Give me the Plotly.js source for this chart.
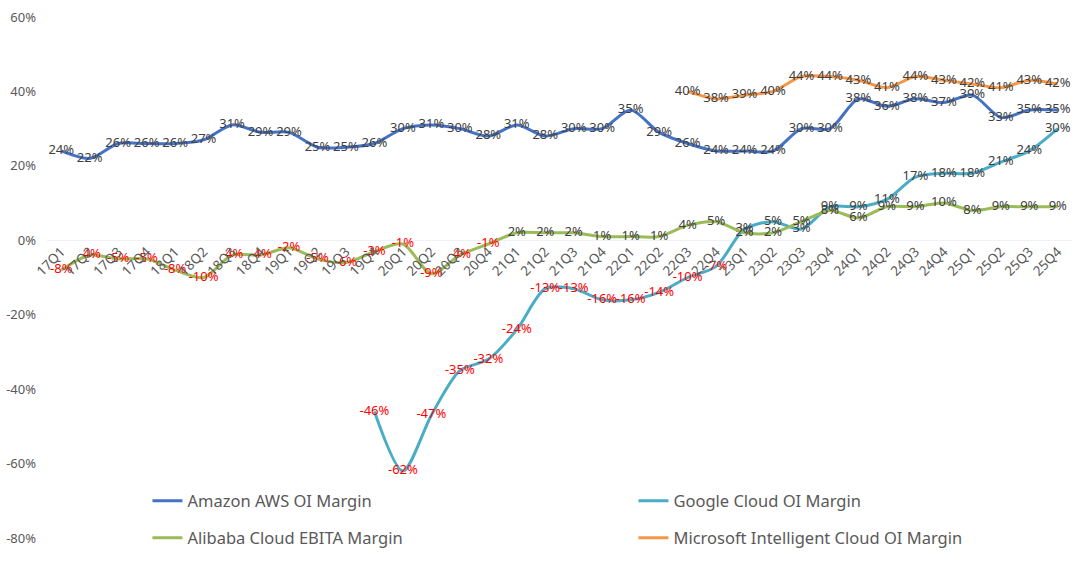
<!DOCTYPE html>
<html>
<head>
<meta charset="utf-8">
<script src="https://cdn.plot.ly/plotly-3.0.1.min.js"></script>
<style>html,body{margin:0;padding:0;background:#fff;}#chart{width:1080px;height:575px;}</style>
</head>
<body>
<div id="chart"></div>
<script>
const quarters = ["17Q1","17Q2","17Q3","17Q4","18Q1","18Q2","18Q3","18Q4","19Q1","19Q2","19Q3","19Q4",
  "20Q1","20Q2","20Q3","20Q4","21Q1","21Q2","21Q3","21Q4","22Q1","22Q2","22Q3","22Q4",
  "23Q1","23Q2","23Q3","23Q4","24Q1","24Q2","24Q3","24Q4","25Q1","25Q2","25Q3","25Q4"];
const awsMargin = [24,22,26,26,26,27,31,29,29,25,25,26,30,31,30,28,31,28,30,30,35,29,26,24,24,24,30,30,38,36,38,37,39,33,35,35];
const googleMargin = [null,null,null,null,null,null,null,null,null,null,null,-46,-62,-47,-35,-32,-24,-13,-13,-16,-16,-14,-10,-7,3,5,3,9,9,11,17,18,18,21,24,30];
const alibabaMargin = [-8,-4,-5,-5,-8,-10,-4,-4,-2,-5,-6,-3,-1,-9,-4,-1,2,2,2,1,1,1,4,5,2,2,5,8,6,9,9,10,8,9,9,9];
const microsoftMargin = [null,null,null,null,null,null,null,null,null,null,null,null,null,null,null,null,null,null,null,null,null,null,40,38,39,40,44,44,43,41,44,43,42,41,43,42];
const seriesNames = ["Amazon AWS OI Margin","Google Cloud OI Margin","Alibaba Cloud EBITA Margin","Microsoft Intelligent Cloud OI Margin"];
const yTicks = [-80,-60,-40,-20,0,20,40,60];

const colors = ["#4472C4","#4BACC6","#9BBB59","#F79646"];
function mk(vals, name, color, legend) {
  return {
    x: quarters, y: vals, name: name, type: "scatter", mode: "lines+text",
    line: {color: color, width: 3, shape: "spline", smoothing: 0.8},
    text: vals.map(v => v === null ? "" : v + "%"),
    textposition: "middle center",
    textfont: {family: "Noto Sans, sans-serif", size: 13, color: vals.map(v => v !== null && v < 0 ? "#FF0000" : "#404040")},
    hoverinfo: "skip",
    legend: legend
  };
}
const data = [
  mk(awsMargin, seriesNames[0], colors[0], "legend"),
  mk(googleMargin, seriesNames[1], colors[1], "legend2"),
  mk(alibabaMargin, seriesNames[2], colors[2], "legend3"),
  mk(microsoftMargin, seriesNames[3], colors[3], "legend4")
];
const legendBase = {
  orientation: "h", xanchor: "left", yanchor: "middle", itemwidth: 30,
  font: {family: "Noto Sans, sans-serif", size: 16.5, color: "#595959"},
  bgcolor: "rgba(0,0,0,0)"
};
const col1 = 0.098, col2 = 0.098 + 486 / 1025;
const row1 = 37 / 521, row2 = 0;
const layout = {
  width: 1080, height: 575,
  margin: {l: 47, r: 8, t: 17, b: 37},
  paper_bgcolor: "#fff", plot_bgcolor: "#fff",
  showlegend: true,
  xaxis: {
    type: "category", range: [-0.5, 35.5], tickangle: -45,
    showgrid: false, zeroline: false, showline: false, ticks: "",
    tickfont: {family: "Noto Sans, sans-serif", size: 13.5, color: "#595959"},
    anchor: "free", position: 80 / 140
  },
  yaxis: {
    range: [-80, 60], tickvals: yTicks, ticktext: yTicks.map(v => v + "%"),
    showgrid: false, zeroline: true, zerolinecolor: "#EEF1F7", zerolinewidth: 1,
    showline: false, ticks: "", ticklabelstandoff: 10,
    tickfont: {family: "Noto Sans, sans-serif", size: 13, color: "#595959"}
  },
  legend: Object.assign({}, legendBase, {x: col1, y: row1}),
  legend2: Object.assign({}, legendBase, {x: col2, y: row1}),
  legend3: Object.assign({}, legendBase, {x: col1, y: row2}),
  legend4: Object.assign({}, legendBase, {x: col2, y: row2})
};
Plotly.newPlot("chart", data, layout, {displayModeBar: false, staticPlot: true});
</script>
</body>
</html>
